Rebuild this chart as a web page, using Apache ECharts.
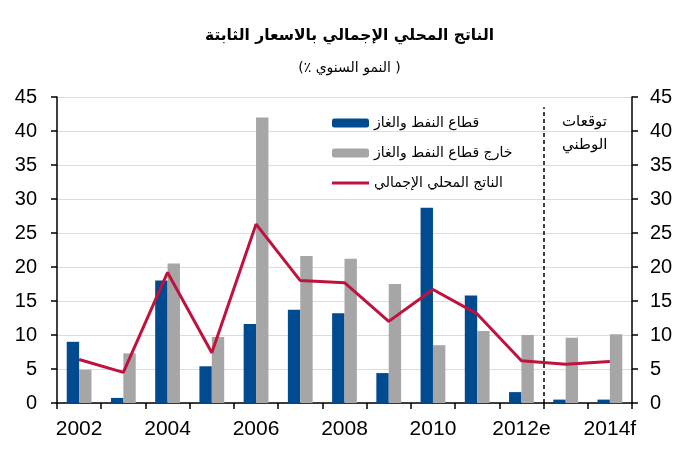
<!DOCTYPE html>
<html>
<head>
<meta charset="utf-8">
<script src="https://cdn.jsdelivr.net/npm/echarts@6/dist/echarts.min.js"></script>
<style>
  html, body { margin: 0; padding: 0; background: #fff; }
  #chart { width: 699px; height: 450px; }
</style>
</head>
<body>
<div id="chart"></div>
<script>
const years = ['2002', '2003', '2004', '2005', '2006', '2007', '2008', '2009', '2010', '2011', '2012e', '2013', '2014f'];
const oilGas = [9.0, 0.75, 18.0, 5.4, 11.6, 13.7, 13.2, 4.4, 28.7, 15.8, 1.6, 0.5, 0.5];
const nonOilGas = [4.9, 7.3, 20.5, 9.7, 42.0, 21.6, 21.2, 17.5, 8.5, 10.6, 10.0, 9.6, 10.1];
const gdp = [6.4, 4.5, 19.2, 7.4, 26.3, 18.0, 17.7, 12.0, 16.7, 13.1, 6.2, 5.7, 6.1];
// forecast period starts at this category boundary
const forecastStart = 11;

const FONT = 'Liberation Sans, Arial, DejaVu Sans, sans-serif';
const AR_FONT = 'DejaVu Sans, Liberation Sans, sans-serif';

const chart = echarts.init(document.getElementById('chart'));

const yAxisBase = {
  type: 'value',
  min: 0,
  max: 45,
  interval: 5,
  axisLine: { show: true, lineStyle: { color: '#000', width: 1.5 } },
  axisTick: { show: true, length: 6, lineStyle: { color: '#000', width: 1.5 } },
};

chart.setOption({
  animation: false,
  title: [
    {
      text: 'الناتج المحلي الإجمالي بالاسعار الثابتة',
      left: 'center',
      top: 23,
      textStyle: { fontSize: 15.5, fontWeight: 'bold', color: '#000', fontFamily: AR_FONT },
    },
    {
      text: '(٪ النمو السنوي )',
      left: 'center',
      top: 56,
      textStyle: { fontSize: 14, fontWeight: 'normal', color: '#000', fontFamily: AR_FONT },
    },
  ],
  legend: {
    orient: 'vertical',
    left: 327,
    top: 111,
    itemWidth: 37,
    itemHeight: 9,
    itemGap: 16,
    textStyle: { fontSize: 14, color: '#000', fontFamily: AR_FONT },
    data: [
      'قطاع النفط والغاز',
      'خارج قطاع النفط والغاز',
      { name: 'الناتج المحلي الإجمالي', icon: 'path://M0,0L37,0L37,3L0,3Z' },
    ],
  },
  grid: { left: 57, right: 67, top: 97, bottom: 47 },
  xAxis: [
    {
      type: 'category',
      data: years,
      axisLine: { lineStyle: { color: '#000', width: 1.5 } },
      axisTick: { show: true, interval: 0, length: 6, lineStyle: { color: '#000', width: 1.5 } },
      axisLabel: { interval: 1, color: '#000', fontSize: 21, fontFamily: FONT, margin: 16 },
    },
    { type: 'value', min: 0, max: years.length, show: false },
  ],
  yAxis: [
    {
      ...yAxisBase,
      position: 'left',
      axisLabel: { color: '#000', fontSize: 20, fontFamily: FONT, margin: 20 },
      splitLine: { show: true, lineStyle: { color: '#dcdcdc', width: 1 } },
    },
    {
      ...yAxisBase,
      position: 'right',
      axisLabel: { color: '#000', fontSize: 20, fontFamily: FONT, margin: 18 },
      splitLine: { show: false },
    },
  ],
  graphic: [
    {
      type: 'text',
      left: 562,
      top: 111,
      style: {
        text: 'توقعات\nالوطني',
        font: '15px ' + AR_FONT,
        fill: '#000',
        align: 'center',
        lineHeight: 23,
      },
    },
  ],
  series: [
    {
      name: 'قطاع النفط والغاز',
      type: 'bar',
      data: oilGas,
      barWidth: '28%',
      barGap: '0%',
      itemStyle: { color: '#004a8f' },
    },
    {
      name: 'خارج قطاع النفط والغاز',
      type: 'bar',
      data: nonOilGas,
      barWidth: '28%',
      barGap: '0%',
      itemStyle: { color: '#a6a6a6' },
    },
    {
      name: 'الناتج المحلي الإجمالي',
      type: 'line',
      data: gdp,
      symbol: 'none',
      lineStyle: { color: '#c0123c', width: 3 },
      itemStyle: { color: '#c0123c' },
    },
    {
      type: 'line',
      xAxisIndex: 1,
      yAxisIndex: 0,
      data: [],
      silent: true,
      markLine: {
        symbol: 'none',
        silent: true,
        label: { show: false },
        lineStyle: { color: '#000', type: [4, 3], width: 1.5 },
        data: [[{ coord: [forecastStart, 0] }, { coord: [forecastStart, 43.5] }]],
      },
    },
  ],
});
</script>
</body>
</html>
